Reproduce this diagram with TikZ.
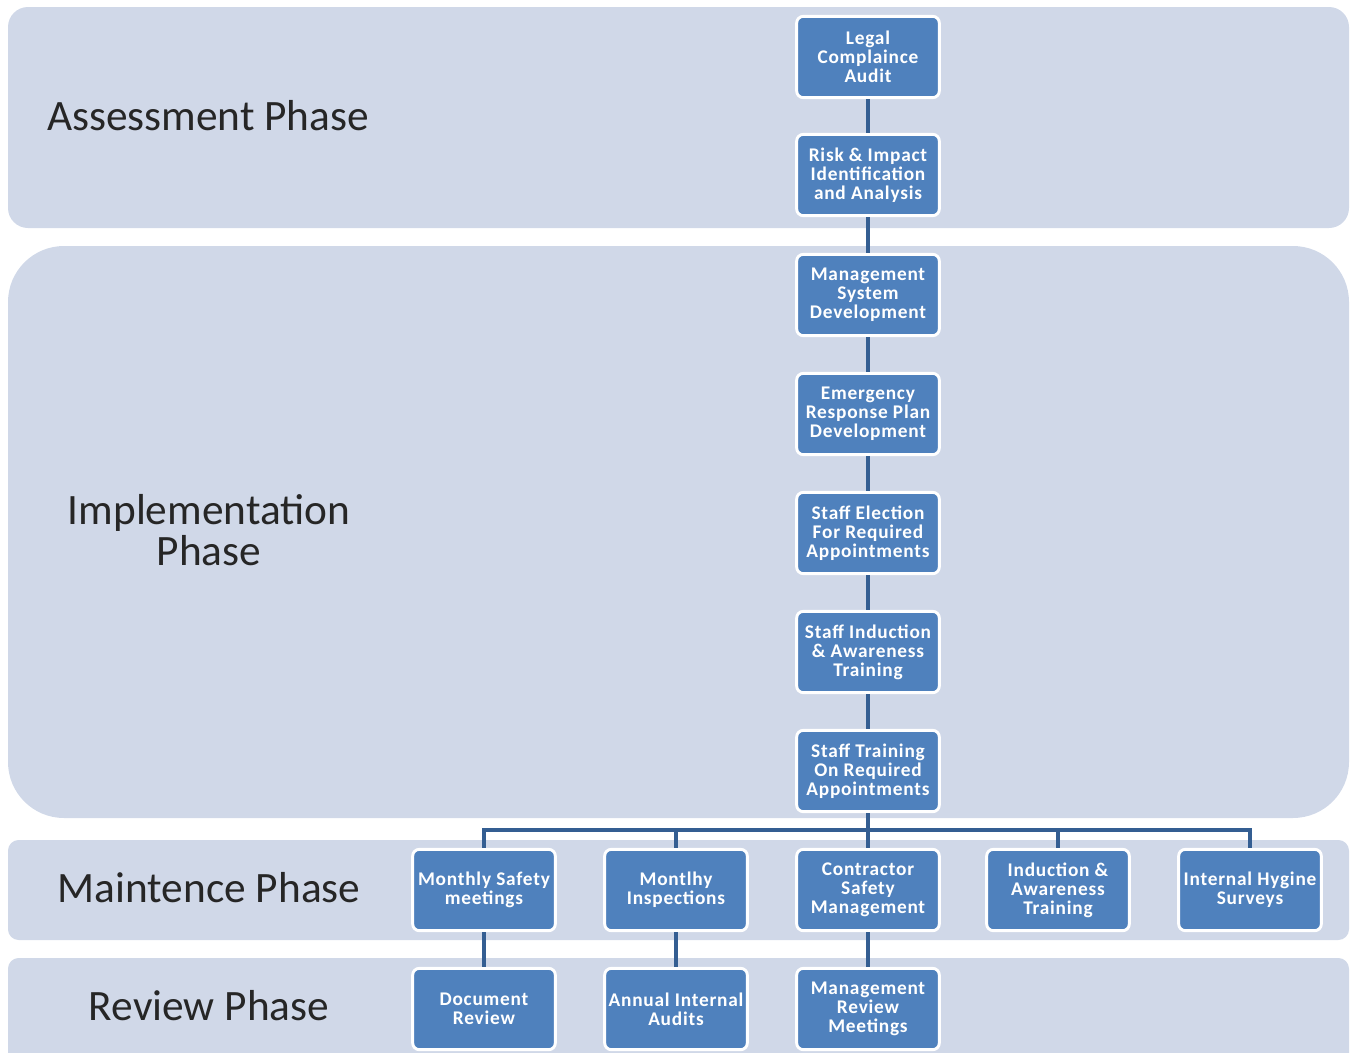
\documentclass[tikz,border=0pt]{standalone}
\usepackage{fontspec}
\setmainfont{Carlito}
\newfontfamily\boxfont[LetterSpace=4]{Carlito}

\definecolor{bandgrey}{RGB}{208,216,232}
\definecolor{boxblue}{RGB}{79,129,189}
\definecolor{linkblue}{RGB}{52,94,146}

\tikzset{every picture/.style={line width=0.75pt}}
\tikzset{
  band/.style={fill=bandgrey, draw=none},
  phaselabel/.style={align=center, text=black!85, font=\fontsize{32.5}{31}\selectfont},
  stepbox/.style={rectangle, rounded corners=5pt, draw=white, line width=2.2pt, fill=boxblue,
    text=white, align=center, minimum width=107pt, minimum height=61pt, inner sep=1pt,
    font=\boxfont\bfseries\fontsize{14.5}{14.3}\selectfont},
  link/.style={draw=linkblue, line width=3pt}
}

\begin{document}
\begin{tikzpicture}[x=0.75pt,y=0.75pt,yscale=-1,xscale=1]
\useasboundingbox (0,0) rectangle (1350,1053);
\clip (0,0) rectangle (1350,1053);

%Phase bands
\draw [band, rounded corners=15pt] (8,7) rectangle (1349,228) ;
\draw [band, rounded corners=42pt] (8,246) rectangle (1349,818) ;
\draw [band, rounded corners=8pt] (8,840) rectangle (1349,940) ;
\draw [band, rounded corners=8pt] (8,958) rectangle (1349,1080) ;

% Phase labels
\node [phaselabel] (assess) at (208,116) {Assessment Phase};
\node [phaselabel] (implem) at (209,530) {Implementation\\Phase};
\node [phaselabel] (maint) at (209,888) {Maintence Phase};
\node [phaselabel] (review) at (209,1006) {Review Phase};

% Main column
\node [stepbox] (s1) at (868,57) {Legal\\Complaince\\Audit};
\node [stepbox] (s2) at (868,175) {Risk \& Impact\\Identification\\and Analysis};
\node [stepbox] (s3) at (868,295) {Management\\System\\Development};
\node [stepbox] (s4) at (868,414) {Emergency\\Response Plan\\Development};
\node [stepbox] (s5) at (868,533) {Staff Election\\For Required\\Appointments};
\node [stepbox] (s6) at (868,652) {Staff Induction\\\& Awareness\\Training};
\node [stepbox] (s7) at (868,771) {Staff Training\\On Required\\Appointments};

% Maintenance row
\node [stepbox] (m1) at (484,890) {Monthly Safety\\meetings};
\node [stepbox] (m2) at (676,890) {Montlhy\\Inspections};
\node [stepbox] (m3) at (868,890) {Contractor\\Safety\\Management};
\node [stepbox] (m4) at (1058,890) {Induction \&\\Awareness\\Training};
\node [stepbox] (m5) at (1250,890) {Internal Hygine\\Surveys};

% Review row
\node [stepbox] (r1) at (484,1009) {Document\\Review};
\node [stepbox] (r2) at (676,1009) {Annual Internal\\Audits};
\node [stepbox] (r3) at (868,1009) {Management\\Review\\Meetings};

\coordinate (bus) at (868,830);

% Connectors
\foreach \a/\b in {s1/s2,s2/s3,s3/s4,s4/s5,s5/s6,s6/s7,m1/r1,m2/r2,m3/r3}
  \draw [link] (\a.south) -- (\b.north) ;
\draw [link] (s7.south) -- (m3.north) ;
\draw [link] (m1.north) |- (bus) -| (m5.north) ;
\draw [link] (m2.north) -- (m2.north |- bus) ;
\draw [link] (m4.north) -- (m4.north |- bus) ;

\end{tikzpicture}
\end{document}
